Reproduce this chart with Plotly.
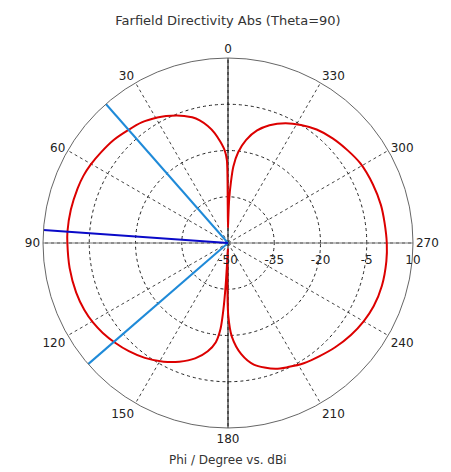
import plotly.graph_objects as go

# ---- data ----
phi_deg = [0, 0.4, 0.8, 2, 4.3, 7, 9.8, 13, 15.9, 19, 22, 26, 29.4, 35.6, 41.7,
           48, 54.5, 60.4, 65, 70, 78, 86, 90, 99, 108, 115, 120.6, 125.7,
           131.3, 137.5, 144.1, 151.5, 157.7, 164.1, 169.4, 173, 175, 176,
           176.8, 177.4, 178, 178.6, 179.3, 180.2, 182.3, 186.8, 192, 200.6,
           205.8, 212.2, 219, 225.8, 233.2, 240, 246.5, 254.5, 263.4, 270,
           277.4, 284, 292, 301, 307.6, 315, 322, 328.3, 334.4, 340.6, 345.5,
           350.1, 353.6, 356, 357.2, 358.5, 359.3, 360]
directivity_dbi = [-45, -38, -23, -20, -17.1, -14, -11.5, -9.2, -7.6, -6.4, -5.4,
                   -4.2, -3.3, -1.9, -1.1, -0.1, 0.6, 1.3, 1.7, 1.9, 2.1, 2.2,
                   2.1, 2.0, 1.8, 1.4, 0.8, 0.0, -1.1, -2.4, -4.0, -6.2, -8.4,
                   -11.1, -14.3, -17.6, -22, -28, -36, -44, -48, -42, -35,
                   -26.5, -19.7, -13.7, -9.7, -6.4, -5.3, -3.9, -2.8, -1.5,
                   -0.2, 0.8, 1.5, 1.8, 1.7, 1.5, 1.2, 1.1, 0.7, 0.1, -0.9,
                   -2.0, -3.3, -5.0, -6.9, -9.5, -12.3, -16.1, -20.4, -25.1,
                   -30, -36, -42, -45]
main_lobe_phi = 86.0
beam_edge_phi = [41.3, 130.9]
radial_ticks = [-50, -35, -20, -5, 10]
angular_ticks = list(range(0, 360, 30))
r_min, r_max = -50, 10

FONT = "DejaVu Sans"

fig = go.Figure()

# axis cross lines (diameters)
fig.add_trace(go.Scatterpolar(r=[r_max, r_max], theta=[0, 180], mode="lines",
                              line=dict(color="#000000", width=1),
                              hoverinfo="skip", showlegend=False))
fig.add_trace(go.Scatterpolar(r=[r_max, r_max], theta=[90, 270], mode="lines",
                              line=dict(color="#7a7a7a", width=1),
                              hoverinfo="skip", showlegend=False))

# farfield pattern
fig.add_trace(go.Scatterpolar(r=directivity_dbi, theta=phi_deg, mode="lines",
                              line=dict(color="#dc0000", width=2,
                                        shape="spline", smoothing=0.8),
                              showlegend=False))

# 3 dB angular width lines
for ph in beam_edge_phi:
    fig.add_trace(go.Scatterpolar(r=[r_min, r_max], theta=[ph, ph], mode="lines",
                                  line=dict(color="#1f8ad8", width=2),
                                  showlegend=False))
# main lobe direction
fig.add_trace(go.Scatterpolar(r=[r_min, r_max], theta=[main_lobe_phi, main_lobe_phi],
                              mode="lines", line=dict(color="#0a0ac8", width=2),
                              showlegend=False))

fig.update_layout(
    width=451, height=472,
    margin=dict(l=43, r=38, t=58, b=44),
    paper_bgcolor="white",
    plot_bgcolor="white",
    font=dict(family=FONT, size=12, color="#222222"),
    title=dict(text="Farfield Directivity Abs (Theta=90)", x=0.5, xref="paper",
               xanchor="center", y=1 - 20 / 472, yref="container", yanchor="middle",
               font=dict(family=FONT, size=13, color="#333333")),
    polar=dict(
        bgcolor="white",
        domain=dict(x=[0, 1], y=[0, 1]),
        angularaxis=dict(
            rotation=90, direction="counterclockwise",
            tickmode="array", tickvals=angular_ticks,
            ticktext=[str(a) for a in angular_ticks],
            showline=True, linecolor="#666666", linewidth=1,
            showgrid=True, gridcolor="#444444", gridwidth=1, griddash="3px,3px",
            ticks="", tickfont=dict(family=FONT, size=12, color="#222222"),
        ),
        radialaxis=dict(
            range=[r_min, r_max], tickmode="array", tickvals=radial_ticks,
            ticktext=[str(v) for v in radial_ticks],
            angle=0, side="clockwise",
            showline=False, showgrid=True, gridcolor="#222222", gridwidth=1,
            griddash="3px,3px", ticks="outside", ticklen=6,
            tickcolor="rgba(0,0,0,0)",
            tickfont=dict(family=FONT, size=12, color="#222222"),
        ),
    ),
    annotations=[dict(text="Phi / Degree vs. dBi", x=0.5, xref="paper",
                      y=(428 - 460) / 370, yref="paper", showarrow=False,
                      xanchor="center", yanchor="middle",
                      font=dict(family=FONT, size=12, color="#333333"))],
)

fig.write_html("out.html")
